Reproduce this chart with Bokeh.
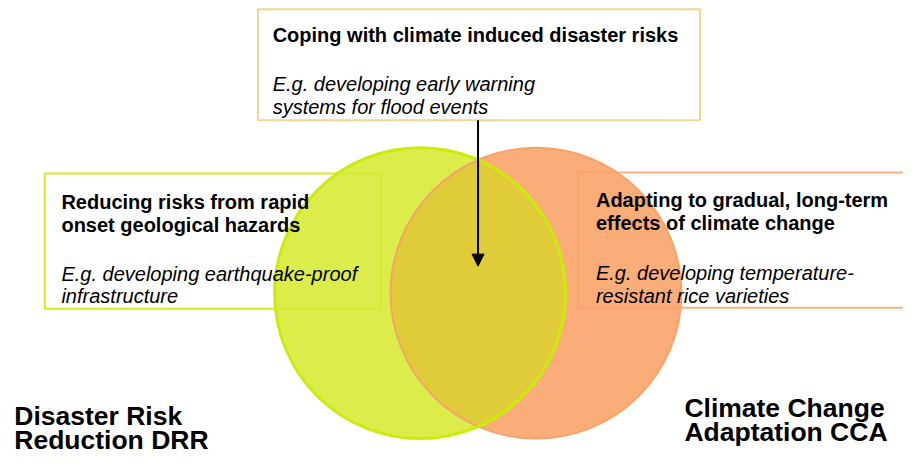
import numpy as np
from bokeh.plotting import figure
from bokeh.models import Range1d, Arrow, NormalHead
from bokeh.core.properties import value
from bokeh.embed import file_html
from bokeh.resources import INLINE

# ---------------- content ----------------
set_label_lines = [["Disaster Risk", "Reduction DRR"],
                   ["Climate Change", "Adaptation CCA"]]
box_title_lines = [["Reducing risks from rapid", "onset geological hazards"],
                   ["Coping with climate induced disaster risks"],
                   ["Adapting to gradual, long-term", "effects of climate change"]]
box_example_lines = [["E.g. developing earthquake-proof", "infrastructure"],
                     ["E.g. developing early warning", "systems for flood events"],
                     ["E.g. developing temperature-", "resistant rice varieties"]]

# ---------------- layout (reference-image coordinates, 919 x 470) ----------------
W, H = 903, 454
REF_W, REF_H = 919, 470
FONT = "Liberation Sans"

# boxes: left, right, top, bottom
boxes = [(45, 387, 179, 319), (262, 712, 9, 124), (588, 935, 178, 318)]
box_colors = ["#d6ea22", "#eed690", "#f8b282"]
title_xy = [(62, 208.5), (277, 35.5), (606, 207)]
example_y = [283, 86.5, 282]
box_font = 20
box_lh = 23.4

circle_cx = [427, 545]
circle_cy = 303
circle_r = 148
circle_fill = ["#d7e932", "#f9a166"]
circle_line = ["#cdeb08", "#f5a46c"]
lens_fill = "#e0cc38"

set_label_pos = [(14, 430), (696, 422)]
set_font = 26.5
set_lh = 24.5

p = figure(width=W, height=H, output_backend="svg", toolbar_location=None,
           x_range=Range1d(0, REF_W), y_range=Range1d(REF_H, 0),
           min_border=0, outline_line_color=None, background_fill_color="white")
p.axis.visible = False
p.grid.visible = False

# boxes
for (l, r, t, b), c in zip(boxes, box_colors):
    p.quad(left=l, right=r, top=t, bottom=b, fill_color="white",
           line_color=c, line_width=2)

# circles
for cx, fc in zip(circle_cx, circle_fill):
    p.circle(x=cx, y=circle_cy, radius=circle_r, fill_color=fc,
             fill_alpha=0.88, line_color=None)

# overlap lens (y stretched to match the on-screen circle, radius is in x units)
k = (W / REF_W) / (H / REF_H)
d = circle_cx[1] - circle_cx[0]
phi = np.arccos((d / 2) / circle_r)
t1 = np.linspace(-phi, phi, 160)
t2 = np.linspace(np.pi - phi, np.pi + phi, 160)
lx = np.concatenate([circle_cx[0] + circle_r * np.cos(t1), circle_cx[1] + circle_r * np.cos(t2)])
ly = np.concatenate([circle_cy + k * circle_r * np.sin(t1), circle_cy + k * circle_r * np.sin(t2)])
p.patch(lx, ly, fill_color=lens_fill, line_color=None)

# outlines
p.circle(x=circle_cx[1], y=circle_cy, radius=circle_r, fill_color=None,
         line_color=circle_line[1], line_width=2)
p.circle(x=circle_cx[0], y=circle_cy, radius=circle_r, fill_color=None,
         line_color=circle_line[0], line_width=3)

# arrow
p.add_layout(Arrow(end=NormalHead(size=12, fill_color="black", line_color="black"),
                   x_start=486, y_start=124, x_end=486, y_end=275,
                   line_color="black", line_width=2))

# box texts
for (tx, ty), titles, ey, examples in zip(title_xy, box_title_lines, example_y, box_example_lines):
    p.text(x=[tx] * len(titles), y=[ty + i * box_lh for i in range(len(titles))],
           text=titles, text_font=value(FONT), text_font_style="bold",
           text_font_size=f"{box_font}px", text_baseline="alphabetic",
           text_align="left", text_color="black")
    p.text(x=[tx] * len(examples), y=[ey + i * box_lh for i in range(len(examples))],
           text=examples, text_font=value(FONT), text_font_style="italic",
           text_font_size=f"{box_font}px", text_baseline="alphabetic",
           text_align="left", text_color="black")

# set labels
for (sx, sy), lines in zip(set_label_pos, set_label_lines):
    p.text(x=[sx] * len(lines), y=[sy + i * set_lh for i in range(len(lines))],
           text=lines, text_font=value(FONT), text_font_style="bold",
           text_font_size=f"{set_font}px", text_baseline="alphabetic",
           text_align="left", text_color="black")

open("out.html", "w").write(file_html(p, INLINE))
